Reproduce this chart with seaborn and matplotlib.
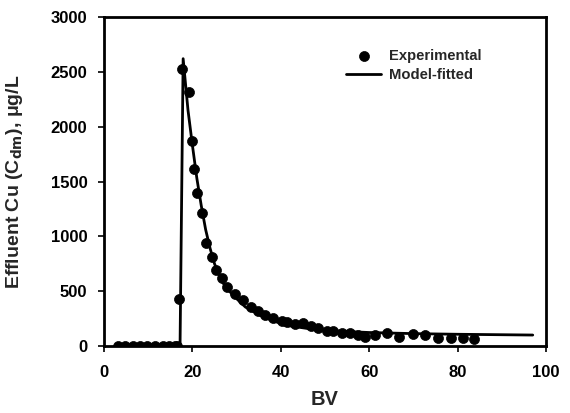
import numpy as np
import pandas as pd
import matplotlib
matplotlib.use("Agg")
import matplotlib.pyplot as plt
import seaborn as sns

# Experimental data (BV, effluent Cu in ug/L)
exp_bv = [3.2, 4.8, 6.5, 8.1, 9.8, 11.5, 13.3, 14.8, 16.1, 16.6, 17.0,
          17.7, 19.2, 19.8, 20.4, 21.0, 22.1, 23.1, 24.4, 25.3, 26.6, 27.8,
          29.6, 31.4, 33.2, 34.9, 36.4, 38.3, 40.2, 41.3, 43.2, 45.1, 46.8,
          48.5, 50.4, 51.9, 53.8, 55.7, 57.5, 59.0, 61.2, 64.0, 66.8, 69.8,
          72.6, 75.6, 78.4, 81.3, 83.6]
exp_cu = [0, 0, 0, 0, 0, 0, 0, 0, 0, 0, 431,
          2522, 2315, 1871, 1611, 1398, 1209, 936, 808, 693, 617, 535,
          471, 419, 358, 319, 283, 252, 231, 216, 200, 212, 182,
          161, 139, 137, 121, 116, 100, 85, 100, 116, 79, 109,
          100, 70, 70, 70, 61]

# Model-fitted curve
model_bv = [3.0, 17.2, 17.9, 19.0, 20.0, 21.0, 22.0, 23.0, 24.0, 25.0, 26.0,
            27.0, 29.0, 32.0, 36.0, 41.0, 46.0, 50.0, 55.0, 60.0, 70.0,
            80.0, 97.0]
model_cu = [0, 0, 2620, 2150, 1830, 1530, 1280, 1060, 890, 750, 650,
            570, 470, 355, 265, 190, 160, 145, 132, 123, 113,
            107, 100]

x_ticks = [0, 20, 40, 60, 80, 100]
y_ticks = [0, 500, 1000, 1500, 2000, 2500, 3000]

sns.set_style("white")
plt.rcParams['font.family'] = ['Liberation Sans', 'DejaVu Sans']
plt.rcParams['font.weight'] = 'bold'

fig = plt.figure(figsize=(5.7, 4.13), dpi=100)
ax = fig.add_axes([0.1825, 0.1622, 0.7754, 0.7966])

df_exp = pd.DataFrame({"BV": exp_bv, "Cu": exp_cu})
df_mod = pd.DataFrame({"BV": model_bv, "Cu": model_cu})

sns.lineplot(data=df_mod, x="BV", y="Cu", ax=ax, color="black", linewidth=2,
             label="Model-fitted", zorder=2, sort=False)
sns.scatterplot(data=df_exp, x="BV", y="Cu", ax=ax, color="black", s=52,
                edgecolor="black", linewidth=0.5, label="Experimental", zorder=3)

ax.set_xlim(0, 100)
ax.set_ylim(0, 3000)
ax.set_xticks(x_ticks)
ax.set_yticks(y_ticks)
ax.tick_params(axis='both', direction='out', length=4, width=1.2,
               labelsize=12, colors='black', bottom=True, left=True)
ax.tick_params(axis='x', pad=10)
ax.tick_params(axis='y', pad=8)
for lab in ax.get_xticklabels() + ax.get_yticklabels():
    lab.set_fontweight('bold')
for sp in ax.spines.values():
    sp.set_linewidth(2)
    sp.set_color('black')

ax.set_xlabel("BV", fontsize=14.5, fontweight='bold', labelpad=7)
ax.set_ylabel("Effluent Cu (C$_{\\mathbf{dm}}$), μg/L", fontsize=14,
              fontweight='bold')
ax.yaxis.set_label_coords(-0.178, 0.5)

handles, labels = ax.get_legend_handles_labels()
order = [labels.index("Experimental"), labels.index("Model-fitted")]
ax.legend([handles[i] for i in order], [labels[i] for i in order],
          loc='upper left', bbox_to_anchor=(0.534, 0.92), frameon=False,
          prop={'weight': 'bold', 'size': 10.6}, handlelength=2.4,
          handletextpad=0.55, labelspacing=0.35, borderaxespad=0)

fig.savefig("out.png", dpi=100)
